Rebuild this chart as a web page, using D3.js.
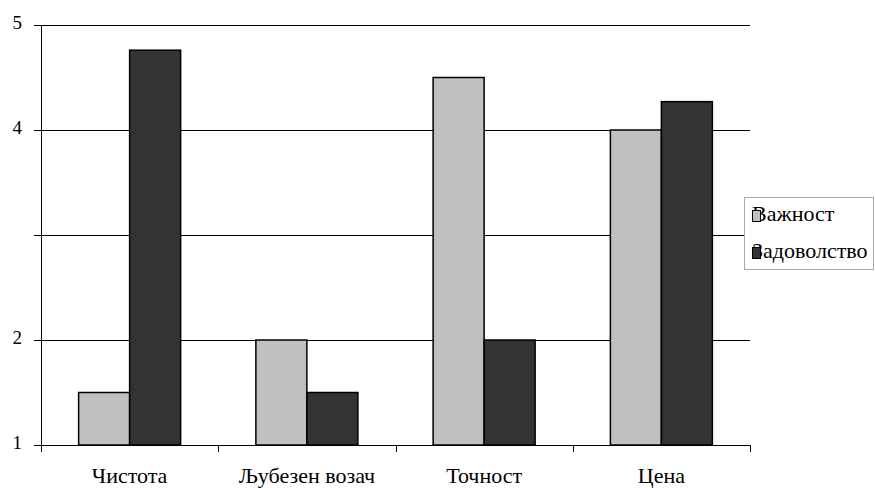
<!DOCTYPE html>
<html><head><meta charset="utf-8">
<script src="https://cdn.jsdelivr.net/npm/d3@7"></script>
</head><body style="margin:0">
<svg id="c" width="875" height="488"></svg>
<script>
const categories = ["Чистота", "Љубезен возач", "Точност", "Цена"];
const seriesNames = ["Важност", "Задоволство"];
const importance = [1.5, 2.0, 4.5, 4.0];
const satisfaction = [4.76, 1.5, 2.0, 4.27];
const yTickLabels = [1, 2, 4, 5];
const gridValues = [2, 3, 4, 5];
const colors = ["#c0c0c0", "#333333"];
const FONT = "Liberation Serif";

const svg = d3.select("#c");
const x = d3.scaleBand().domain(categories).range([41, 750]).padding(0);
const y = d3.scaleLinear().domain([1, 5]).range([445, 25]);
const barW = 51;

svg.append("g").selectAll("line").data(gridValues).join("line")
  .attr("x1", 34).attr("x2", 750)
  .attr("y1", d => y(d)).attr("y2", d => y(d))
  .attr("stroke", "#000").attr("stroke-width", 1).attr("shape-rendering","crispEdges");

const yAxis = svg.append("g").attr("transform", "translate(41,0)")
  .call(d3.axisLeft(y).tickValues(yTickLabels).tickSize(7).tickFormat(d3.format("d")));
yAxis.attr("font-family", null).attr("font-size", null);
yAxis.select(".domain").remove();
yAxis.selectAll("line").attr("stroke", "#000").attr("shape-rendering","crispEdges");
yAxis.selectAll("text").style("font-family", FONT).attr("font-size", 19)
  .attr("x", -19).attr("dy", 3).attr("fill", "#000");
svg.append("line").attr("x1", 41).attr("x2", 41).attr("y1", y(5)).attr("y2", y(1))
  .attr("stroke", "#000").attr("shape-rendering","crispEdges");

const data = categories.map((c, i) => ({c, vals: [importance[i], satisfaction[i]]}));
const g = svg.append("g");
data.forEach(d => {
  d.vals.forEach((v, j) => {
    const cx = x(d.c) + x.bandwidth() / 2;
    g.append("rect")
      .attr("x", cx - barW + j * barW).attr("width", barW)
      .attr("y", y(v)).attr("height", y(1) - y(v))
      .attr("fill", colors[j]).attr("stroke", "#000").attr("stroke-width", 1.5);
  });
});

const xAxis = svg.append("g").attr("transform", "translate(0,445)")
  .call(d3.axisBottom(x).tickSize(0).tickPadding(24));
xAxis.attr("font-family", null).attr("font-size", null);
xAxis.select(".domain").remove();
xAxis.selectAll("text").style("font-family", FONT).attr("font-size", 22).attr("dy", 14).attr("fill", "#000");
svg.append("line").attr("x1", 34).attr("x2", 750).attr("y1", 445).attr("y2", 445)
  .attr("stroke", "#000").attr("shape-rendering","crispEdges");
const bTicks = d3.range(categories.length + 1).map(i => 41 + i * x.bandwidth());
svg.append("g").selectAll("line").data(bTicks).join("line")
  .attr("x1", d => Math.round(d)).attr("x2", d => Math.round(d)).attr("y1", 445).attr("y2", 452)
  .attr("stroke", "#000").attr("shape-rendering","crispEdges");

const lg = svg.append("g");
lg.append("rect").attr("x", 744.5).attr("y", 197.5).attr("width", 129).attr("height", 72)
  .attr("fill", "#fff").attr("stroke", "#aaa").attr("stroke-width", 1);
seriesNames.forEach((n, i) => {
  const yy = 221 + i * 37;
  lg.append("text").attr("x", 752).attr("y", yy).style("font-family", FONT)
    .attr("font-size", 22).attr("fill", "#000").text(n);
  lg.append("rect").attr("x", 752.5).attr("y", yy - 10.5).attr("width", 8).attr("height", 11)
    .attr("fill", colors[i]).attr("stroke", "#000").attr("stroke-width", 1);
});
</script>
</body></html>
